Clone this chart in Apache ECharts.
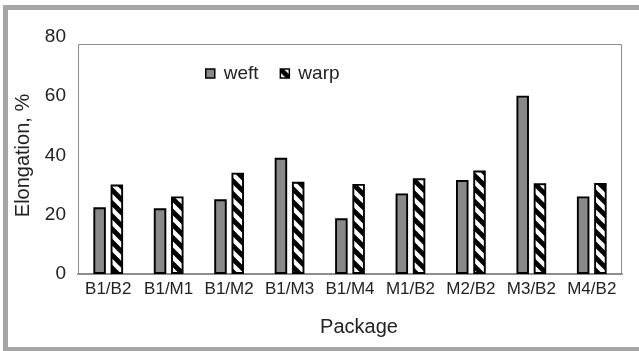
<!DOCTYPE html>
<html>
<head>
<meta charset="utf-8">
<script src="https://cdn.jsdelivr.net/npm/echarts@6/dist/echarts.min.js"></script>
<style>
  html, body { margin: 0; padding: 0; background: #ffffff; }
  #chart { width: 639px; height: 351px; }
</style>
</head>
<body>
<div id="chart"></div>
<script>
// Elongation of each package, weft and warp directions (%)
const packages = ['B1/B2', 'B1/M1', 'B1/M2', 'B1/M3', 'B1/M4', 'M1/B2', 'M2/B2', 'M3/B2', 'M4/B2'];
const weft = [22.5, 22.2, 25.2, 39.2, 18.8, 27.2, 31.7, 60.2, 26.2];
const warp = [30.2, 26.2, 34.2, 31.1, 30.4, 32.3, 34.9, 30.6, 30.7];
const yTicks = [0, 20, 40, 60, 80];

// Back-slash hatch used to fill the warp bars
function hatchPattern() {
  const size = 13;
  const c = document.createElement('canvas');
  c.width = size; c.height = size;
  const g = c.getContext('2d');
  g.fillStyle = '#ffffff';
  g.fillRect(0, 0, size, size);
  g.strokeStyle = '#000000';
  g.lineWidth = 4.8;
  for (const x0 of [-size, 0, size]) {
    g.beginPath();
    g.moveTo(x0 - size, -size);
    g.lineTo(x0 + 2 * size, 2 * size);
    g.stroke();
  }
  return { image: c, repeat: 'repeat' };
}

const FONT = '"Liberation Sans", Arial, sans-serif';
const chart = echarts.init(document.getElementById('chart'), null, { renderer: 'canvas' });

chart.setOption({
  animation: false,
  backgroundColor: '#ffffff',
  textStyle: { fontFamily: FONT },
  graphic: [
    {
      type: 'rect', silent: true, z: -10,
      shape: { x: 5.5, y: 7.5, width: 700, height: 342 },
      style: { fill: 'none', stroke: '#a6a6a6', lineWidth: 5 }
    },
    {
      type: 'rect', silent: true, z: -5,
      shape: { x: 78.5, y: 44.5, width: 543, height: 230 },
      style: { fill: 'none', stroke: '#8c8c8c', lineWidth: 1 }
    }
  ],
  legend: {
    data: ['weft', 'warp'],
    left: 200,
    top: 59,
    itemWidth: 9,
    itemHeight: 9,
    itemGap: 21,
    icon: 'rect',
    itemStyle: { borderColor: '#000000', borderWidth: 1.5 },
    textStyle: { fontSize: 19, color: '#222222', fontFamily: FONT, padding: [0, 0, 0, 4] }
  },
  grid: { left: 78, right: 17, top: 37, bottom: 77 },
  xAxis: {
    type: 'category',
    data: packages,
    name: 'Package',
    nameLocation: 'middle',
    nameGap: 43,
    nameTextStyle: { fontSize: 20, color: '#222222', padding: [0, 0, 0, 18] },
    axisLine: { lineStyle: { color: '#8c8c8c', width: 2 } },
    axisTick: { show: false },
    axisLabel: { fontSize: 17, color: '#222222', margin: 7, interval: 0 }
  },
  yAxis: {
    type: 'value',
    min: yTicks[0],
    max: yTicks[yTicks.length - 1],
    interval: yTicks[1] - yTicks[0],
    name: 'Elongation, %',
    nameLocation: 'middle',
    nameGap: 45,
    nameTextStyle: { fontSize: 20, color: '#222222' },
    axisLine: { show: false },
    axisTick: { show: false },
    splitLine: { show: false },
    axisLabel: { fontSize: 19, color: '#222222', margin: 12 }
  },
  series: [
    {
      name: 'weft',
      type: 'bar',
      data: weft,
      barWidth: 12.5,
      barGap: '38%',
      itemStyle: { color: '#898989', borderColor: '#000000', borderWidth: 1.9 }
    },
    {
      name: 'warp',
      type: 'bar',
      data: warp,
      barWidth: 12.5,
      itemStyle: { color: hatchPattern(), borderColor: '#000000', borderWidth: 1.9 }
    }
  ]
});
</script>
</body>
</html>
